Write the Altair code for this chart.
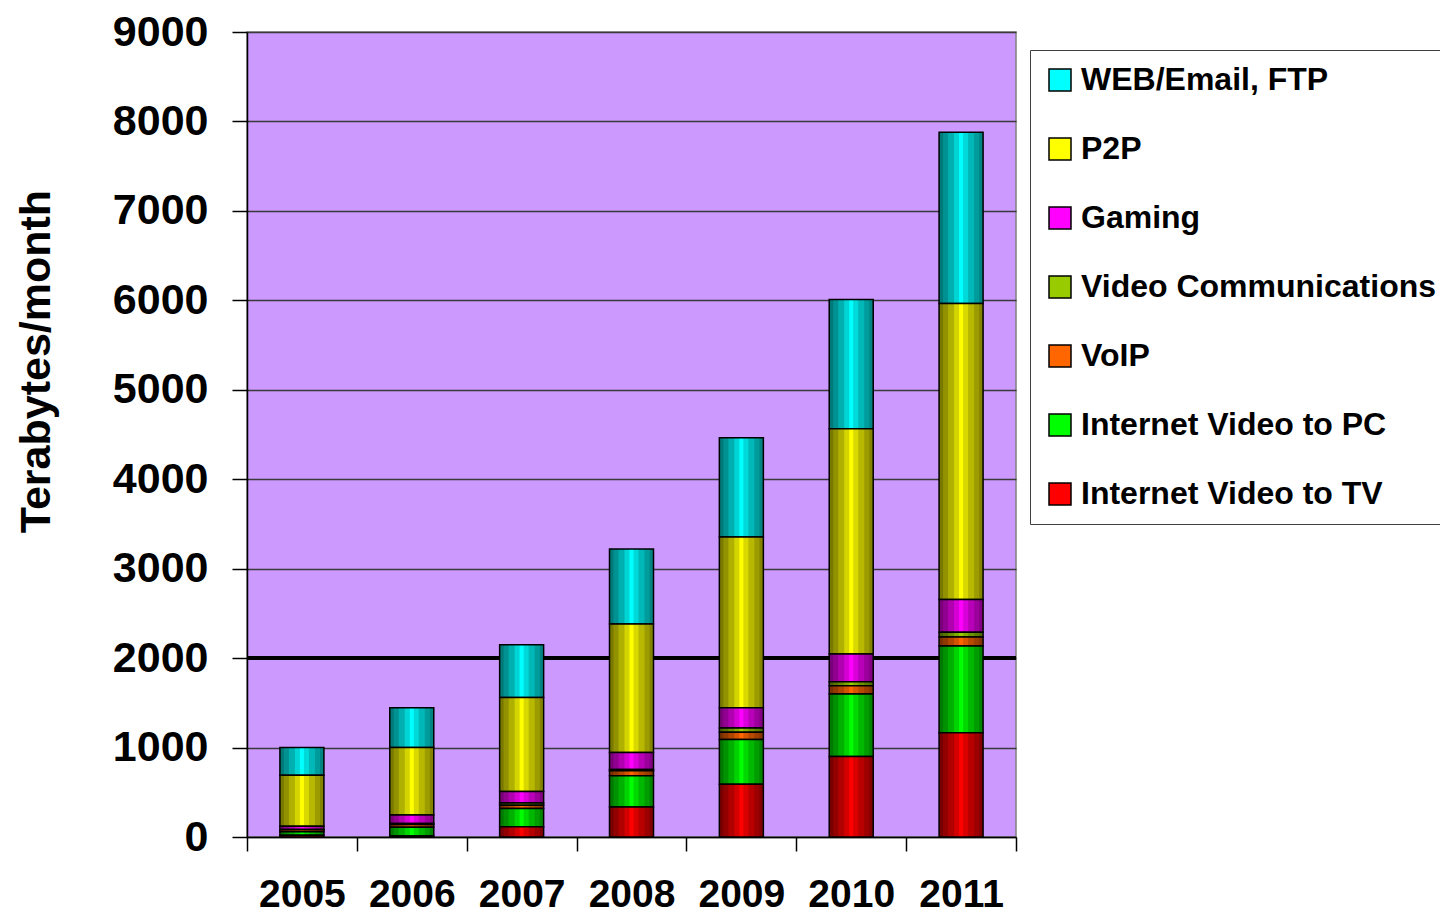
import altair as alt
import pandas as pd

years = ["2005", "2006", "2007", "2008", "2009", "2010", "2011"]
series = ["WEB/Email, FTP", "P2P", "Gaming", "Video Communications", "VoIP",
          "Internet Video to PC", "Internet Video to TV"]
colors = ["#00FFFF", "#FFFF00", "#FF00FF", "#99CC00", "#FF6600", "#00FF00", "#FF0000"]

web_email_ftp = [310, 445, 590, 840, 1110, 1445, 1915]
p2p = [570, 755, 1050, 1435, 1910, 2520, 3310]
gaming = [35, 95, 130, 190, 225, 310, 365]
video_comm = [5, 10, 25, 15, 50, 45, 55]
voip = [20, 30, 35, 55, 80, 90, 100]
video_pc = [40, 100, 205, 350, 500, 700, 970]
video_tv = [20, 10, 115, 335, 590, 900, 1165]

y_ticks = [0, 1000, 2000, 3000, 4000, 5000, 6000, 7000, 8000, 9000]
highlight_level = [2000]

series_values = [web_email_ftp, p2p, gaming, video_comm, voip, video_pc, video_tv]
rows = []
for si, (name, vals) in enumerate(zip(series, series_values)):
    for yr, v in zip(years, vals):
        rows.append({"year": yr, "series": name, "value": v, "stackorder": len(series) - 1 - si})
df = pd.DataFrame(rows)
df_rule = pd.DataFrame({"level": highlight_level})

FONT = "Liberation Sans"
BAR_W = 44

x_enc = alt.X(
    "year:O",
    scale=alt.Scale(paddingInner=0, paddingOuter=0),
    axis=alt.Axis(
        title=None, labelAngle=0, tickBand="extent", grid=False,
        labelFont=FONT, labelFontSize=39, labelFontWeight="bold", labelColor="black",
        tickSize=14, tickColor="black", tickWidth=1.5, labelPadding=24,
        domainColor="black", domainWidth=1.5,
    ),
)
y_scale = alt.Scale(domain=[0, 9000], nice=False)

rule = alt.Chart(df_rule).mark_rule(color="black", strokeWidth=4).encode(
    y=alt.Y("level:Q", scale=y_scale)
)

bars = alt.Chart(df).mark_bar(
    width=BAR_W, stroke="black", strokeWidth=1.5
).encode(
    x=x_enc,
    y=alt.Y(
        "value:Q", stack="zero", scale=y_scale,
        axis=alt.Axis(
            values=y_ticks, format="d", grid=True, gridColor="#3a3a3a", gridWidth=1.5,
            tickSize=15, tickColor="black", tickWidth=1.5,
            domainColor="black", domainWidth=1.5,
            labelFont=FONT, labelFontSize=43, labelFontWeight="bold", labelColor="black",
            labelPadding=24,
            title="Terabytes/month", titleFont=FONT, titleFontSize=43,
            titleFontWeight="bold", titleColor="black",
            titleAngle=270, titleAlign="center", titleBaseline="middle",
            titleX=-211, titleY=329,
        ),
    ),
    color=alt.Color(
        "series:N",
        scale=alt.Scale(domain=series, range=colors),
        legend=alt.Legend(
            title=None, orient="none", legendX=783, legendY=18,
            symbolType="square", symbolSize=484, symbolStrokeColor="black",
            symbolStrokeWidth=1.5, labelFont=FONT, labelFontSize=32,
            labelFontWeight="bold", labelColor="black", labelLimit=0,
            rowPadding=37, padding=14, strokeColor="#404040", fillColor="white",
            labelOffset=5,
        ),
    ),
    order=alt.Order("stackorder:Q", sort="ascending"),
)

# cylinder-like shading: translucent dark strips at both edges of each bar
shade_layers = []
half = BAR_W / 2
for w in [4, 9, 15, 20]:
    for side, op in [(-1, 0.17), (1, 0.15)]:
        offset = side * (half - w / 2)
        shade_layers.append(
            alt.Chart(df).mark_bar(
                width=w, xOffset=offset, color="black", opacity=op, strokeWidth=0
            ).encode(
                x=alt.X("year:O"),
                y=alt.Y("sum(value):Q", scale=y_scale),
            )
        )

chart = alt.layer(rule, bars, *shade_layers).properties(
    width=769, height=805,
    padding={"left": 239, "top": 24, "right": 424, "bottom": 78},
    autosize=alt.AutoSizeParams(type="none"),
    background="white",
).configure_view(fill="#CC99FF", stroke="#808080", strokeWidth=1.5)

chart.save("out.html", embed_options={"renderer": "svg", "actions": False})
